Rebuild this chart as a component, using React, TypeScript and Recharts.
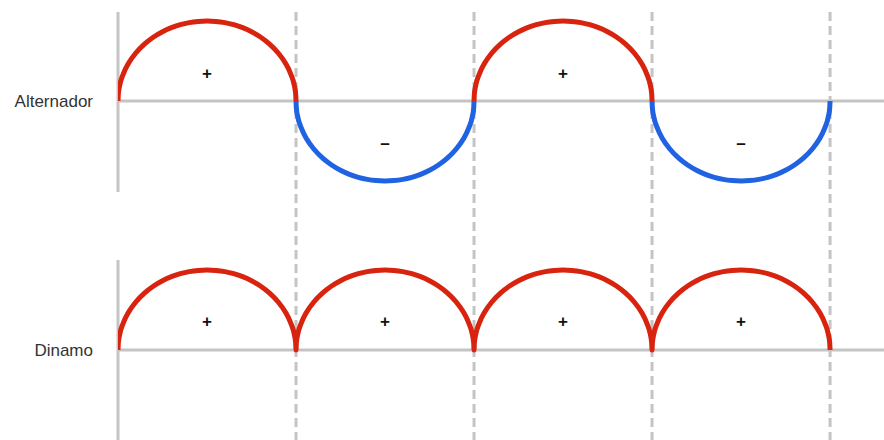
import React from 'react';
import { ComposedChart, Line, XAxis, YAxis, ReferenceLine, ReferenceDot } from 'recharts';

// one hump profile (fraction of period, height as fraction of peak)
const HUMP_T = [0, 0.002, 0.01, 0.03, 0.06, 0.1, 0.15, 0.2, 0.25, 0.3, 0.35, 0.4, 0.45, 0.5,
  0.55, 0.6, 0.65, 0.7, 0.75, 0.8, 0.85, 0.9, 0.94, 0.97, 0.99, 0.998, 1];
const HUMP_H = [0, 0.09, 0.2, 0.34, 0.475, 0.6, 0.714, 0.8, 0.866, 0.917, 0.954, 0.98, 0.995, 1,
  0.995, 0.98, 0.954, 0.917, 0.866, 0.8, 0.714, 0.6, 0.475, 0.34, 0.2, 0.09, 0];

// half cycles
const HALVES = [0, 1, 2, 3];
const ALT_SIGN = [1, -1, 1, -1];
const DYN_SIGN = [1, 1, 1, 1];
const ALT_LABELS = ['+', '–', '+', '–'];
const DYN_LABELS = ['+', '+', '+', '+'];

const RED = '#d8230f';
const BLUE = '#1f62e2';
const GRAY = '#c4c4c4';
const FONT = 'Liberation Sans, Arial, sans-serif';

const rows: any[] = [];
HALVES.forEach((k) => {
  HUMP_T.forEach((t, i) => {
    const x = +(k + t).toFixed(4);
    const alt = ALT_SIGN[k] * HUMP_H[i];
    const dyn = DYN_SIGN[k] * HUMP_H[i];
    let row = rows.find((r) => r.x === x);
    if (!row) {
      row = { x, red: null, blue: null, dyn: null };
      rows.push(row);
    }
    if (ALT_SIGN[k] > 0) row.red = alt; else row.blue = alt;
    row.dyn = dyn;
  });
});

export default function App() {
  return (
    <div style={{ width: 884, height: 440, background: '#fff' }}>
      <style>{'body{margin:0}'}</style>
      <ComposedChart width={884} height={440} data={rows} margin={{ top: 0, right: 0, bottom: 0, left: 118 }}>
        <XAxis dataKey="x" type="number" domain={[0, 4.303]} hide allowDataOverflow />
        <YAxis yAxisId="top" type="number" domain={[-4.2375, 1.2625]} hide allowDataOverflow />
        <YAxis yAxisId="bot" type="number" domain={[-1.125, 4.375]} hide allowDataOverflow />

        {[1, 2, 3, 4].map((x) => (
          <ReferenceLine key={x} yAxisId="top" segment={[{ x, y: 1.1125 }, { x, y: -4.2375 }]}
            stroke={GRAY} strokeWidth={3} strokeDasharray="9 5" />
        ))}
        <ReferenceLine yAxisId="top" segment={[{ x: 0, y: 1.1125 }, { x: 0, y: -1.1375 }]} stroke={GRAY} strokeWidth={3} />
        <ReferenceLine yAxisId="bot" segment={[{ x: 0, y: 1.125 }, { x: 0, y: -1.125 }]} stroke={GRAY} strokeWidth={3} />
        <ReferenceLine yAxisId="top" y={0} stroke={GRAY} strokeWidth={3}
          label={{ value: 'Alternador', position: 'left', offset: 25, fill: '#333', fontSize: 17, fontFamily: FONT }} />
        <ReferenceLine yAxisId="bot" y={0} stroke={GRAY} strokeWidth={3}
          label={{ value: 'Dinamo', position: 'left', offset: 25, fill: '#333', fontSize: 17, fontFamily: FONT }} />

        <Line yAxisId="top" dataKey="red" type="monotone" stroke={RED} strokeWidth={5} dot={false} isAnimationActive={false} connectNulls={false} />
        <Line yAxisId="top" dataKey="blue" type="monotone" stroke={BLUE} strokeWidth={5} dot={false} isAnimationActive={false} connectNulls={false} />
        <Line yAxisId="bot" dataKey="dyn" type="monotone" stroke={RED} strokeWidth={5} dot={false} isAnimationActive={false} />

        {HALVES.map((k) => (
          <ReferenceDot key={'a' + k} yAxisId="top" x={k + 0.5} y={ALT_SIGN[k] > 0 ? 0.35 : -0.525} r={0}
            label={{ value: ALT_LABELS[k], position: 'center', fill: '#111', fontSize: 17, fontWeight: 'bold', fontFamily: FONT }} />
        ))}
        {HALVES.map((k) => (
          <ReferenceDot key={'d' + k} yAxisId="bot" x={k + 0.5} y={0.36} r={0}
            label={{ value: DYN_LABELS[k], position: 'center', fill: '#111', fontSize: 17, fontWeight: 'bold', fontFamily: FONT }} />
        ))}
      </ComposedChart>
    </div>
  );
}
